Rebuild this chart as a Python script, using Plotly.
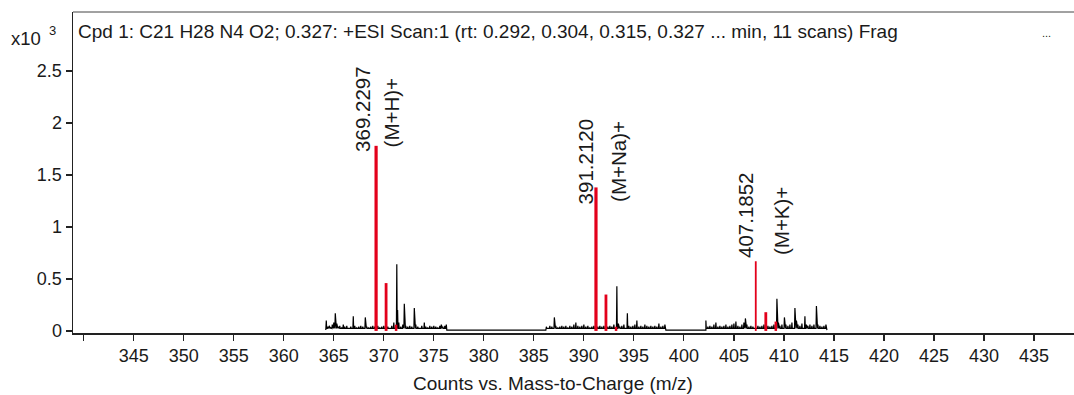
import plotly.graph_objects as go

# ---------------- data ----------------
x_tick_vals = [340, 345, 350, 355, 360, 365, 370, 375, 380, 385, 390, 395, 400,
               405, 410, 415, 420, 425, 430, 435]
x_tick_text = ["", "345", "350", "355", "360", "365", "370", "375", "380", "385",
               "390", "395", "400", "405", "410", "415", "420", "425", "430", "435"]
y_tick_vals = [0, 0.5, 1, 1.5, 2, 2.5]
y_tick_text = ["0", "0.5", "1", "1.5", "2", "2.5"]

# cluster limits (m/z) and baseline level (x10^3 counts)
cluster_start = [364.2, 386.2, 402.2]
cluster_end = [376.3, 398.2, 414.3]
cluster_floor = [0.024, 0.024, 0.024]
gap_level = 0.008

# black profile peaks, cluster 1
c1_mz = [364.25, 364.4, 364.55, 364.7, 364.85, 365.0, 365.15, 365.3, 365.45, 365.6,
         365.8, 365.95, 366.1, 366.3, 366.5, 366.7, 366.95, 367.1, 367.3, 367.5,
         367.7, 367.9, 368.15, 368.3, 368.5, 368.7, 368.9, 369.1, 369.4, 369.6,
         369.8, 370.0, 370.4, 370.6, 370.8, 371.0, 371.3, 371.38, 371.5, 371.7,
         371.9, 372.05, 372.2, 372.4, 372.6, 372.8, 373.05, 373.2, 373.4, 373.6,
         373.8, 374.05, 374.2, 374.4, 374.6, 374.8, 375.0, 375.2, 375.4, 375.6,
         375.75, 375.9, 376.1, 376.25]
c1_int = [0.10, 0.04, 0.05, 0.03, 0.06, 0.08, 0.17, 0.07, 0.04, 0.05,
          0.03, 0.06, 0.04, 0.05, 0.03, 0.04, 0.14, 0.05, 0.03, 0.04,
          0.05, 0.04, 0.13, 0.04, 0.03, 0.04, 0.05, 0.04, 0.05, 0.03,
          0.04, 0.05, 0.04, 0.03, 0.05, 0.08, 0.64, 0.20, 0.08, 0.04,
          0.06, 0.26, 0.05, 0.04, 0.05, 0.04, 0.22, 0.06, 0.04, 0.03,
          0.05, 0.08, 0.04, 0.03, 0.05, 0.04, 0.05, 0.04, 0.03, 0.05,
          0.06, 0.04, 0.05, 0.06]

# cluster 2
c2_mz = [386.25, 386.45, 386.6, 386.8, 387.05, 387.2, 387.4, 387.6, 387.8, 388.0,
         388.2, 388.4, 388.6, 388.8, 389.0, 389.2, 389.4, 389.6, 389.8, 390.0,
         390.2, 390.4, 390.6, 390.8, 391.0, 391.4, 391.6, 391.8, 392.0, 392.4,
         392.6, 392.8, 393.0, 393.3, 393.45, 393.6, 393.8, 394.0, 394.35, 394.5,
         394.7, 394.9, 395.1, 395.3, 395.5, 395.7, 395.9, 396.1, 396.3, 396.5,
         396.7, 396.9, 397.1, 397.3, 397.5, 397.7, 397.9, 398.1]
c2_int = [0.04, 0.03, 0.05, 0.04, 0.13, 0.05, 0.03, 0.04, 0.05, 0.04,
          0.05, 0.03, 0.05, 0.04, 0.06, 0.08, 0.05, 0.04, 0.05, 0.06,
          0.04, 0.05, 0.03, 0.04, 0.05, 0.04, 0.05, 0.04, 0.05, 0.04,
          0.05, 0.04, 0.06, 0.43, 0.07, 0.04, 0.05, 0.06, 0.17, 0.05,
          0.04, 0.05, 0.06, 0.10, 0.04, 0.05, 0.04, 0.06, 0.05, 0.04,
          0.05, 0.04, 0.05, 0.04, 0.07, 0.04, 0.05, 0.06]

# cluster 3
c3_mz = [402.2, 402.4, 402.6, 402.8, 403.0, 403.2, 403.4, 403.6, 403.8, 404.0,
         404.2, 404.4, 404.6, 404.8, 405.0, 405.2, 405.4, 405.6, 405.8, 406.0,
         406.15, 406.3, 406.5, 406.7, 406.9, 407.4, 407.6, 407.8, 408.0, 408.4,
         408.6, 408.8, 409.0, 409.3, 409.45, 409.6, 409.8, 410.05, 410.2, 410.4,
         410.6, 410.8, 411.1, 411.25, 411.4, 411.6, 411.8, 412.1, 412.25, 412.4,
         412.6, 412.8, 413.0, 413.25, 413.4, 413.6, 413.8, 414.0, 414.2]
c3_int = [0.10, 0.04, 0.05, 0.04, 0.06, 0.08, 0.04, 0.05, 0.04, 0.05,
          0.06, 0.04, 0.05, 0.06, 0.07, 0.09, 0.05, 0.04, 0.06, 0.08,
          0.12, 0.06, 0.04, 0.05, 0.04, 0.05, 0.04, 0.05, 0.06, 0.05,
          0.04, 0.05, 0.06, 0.31, 0.08, 0.05, 0.06, 0.13, 0.06, 0.05,
          0.06, 0.08, 0.22, 0.10, 0.06, 0.05, 0.07, 0.14, 0.06, 0.05,
          0.06, 0.05, 0.06, 0.24, 0.06, 0.05, 0.04, 0.05, 0.06]

# red (compound) peaks
red_mz = [369.2297, 370.23, 371.23, 391.2120, 392.21, 393.22, 407.1852, 408.19, 409.19]
red_int = [1.78, 0.46, 0.06, 1.38, 0.35, 0.04, 0.67, 0.18, 0.09]

# labelled peaks
label_mz = [369.2297, 391.2120, 407.1852]
label_int = [1.78, 1.38, 0.67]
label_value = ["369.2297", "391.2120", "407.1852"]
label_ion = ["(M+H)+", "(M+Na)+", "(M+K)+"]

title_text = ("Cpd 1: C21 H28 N4 O2; 0.327: +ESI Scan:1 (rt: 0.292, 0.304, 0.315, "
              "0.327 ... min, 11 scans) Frag")
x_title = "Counts vs. Mass-to-Charge (m/z)"

# ---------------- styles / layout geometry ----------------
FONT = "Liberation Sans, Arial, sans-serif"
TXT = "#1a1a1a"
RED = "#e3001b"
red_width = [3.2, 2.8, 2.5, 3.2, 2.8, 2.5, 1.8, 2.8, 2.5]
label_dx_value = [-13, -11, -11]
label_dy_value = [-8, -19, 1]
label_dx_ion = [15, 23, 25]
label_dy_ion = [-4, -16, 4]

W, H = 1074, 395
L, R, T, B = 73, 1074, 12, 333


def px(xp):
    return (xp - L) / (R - L)


def py(yp):
    return (B - yp) / (B - T)


# ---------------- build black profile ----------------
half = 0.04
prof_x, prof_y = [], []
clusters = [(c1_mz, c1_int), (c2_mz, c2_int), (c3_mz, c3_int)]
for ci, (mzs, ints) in enumerate(clusters):
    fl = cluster_floor[ci]
    prof_x += [cluster_start[ci], cluster_start[ci]]
    prof_y += [gap_level, fl]
    for m, v in zip(mzs, ints):
        prof_x += [m - half, m, m + half]
        prof_y += [fl, v, fl]
    prof_x += [cluster_end[ci], cluster_end[ci]]
    prof_y += [fl, gap_level]

fig = go.Figure()
fig.add_trace(go.Scatter(x=prof_x, y=prof_y, mode="lines",
                         line=dict(color="black", width=1.2), hoverinfo="skip"))

for m, v, w in zip(red_mz, red_int, red_width):
    fig.add_trace(go.Scatter(x=[m, m], y=[0, v], mode="lines",
                             line=dict(color=RED, width=w), hoverinfo="skip"))

annotations = []
for m, v, t1, t2, dx1, dy1, dx2, dy2 in zip(label_mz, label_int, label_value, label_ion,
                                            label_dx_value, label_dy_value,
                                            label_dx_ion, label_dy_ion):
    annotations.append(dict(x=m, y=v, xref="x", yref="y", text=t1, textangle=-90,
                            showarrow=False, xanchor="center", yanchor="bottom",
                            xshift=dx1, yshift=dy1,
                            font=dict(family=FONT, size=20.5, color=TXT)))
    annotations.append(dict(x=m, y=v, xref="x", yref="y", text=t2, textangle=-90,
                            showarrow=False, xanchor="center", yanchor="bottom",
                            xshift=dx2, yshift=dy2,
                            font=dict(family=FONT, size=20.5, color=TXT)))

annotations += [
    dict(x=px(76), y=py(31), xref="paper", yref="paper", text=title_text,
         showarrow=False, xanchor="left", yanchor="middle",
         font=dict(family=FONT, size=19, color=TXT)),
    dict(x=px(1046), y=py(33), xref="paper", yref="paper", text="...",
         showarrow=False, xanchor="center", yanchor="middle",
         font=dict(family=FONT, size=11, color=TXT)),
    dict(x=px(26), y=py(38), xref="paper", yref="paper", text="x10",
         showarrow=False, xanchor="center", yanchor="middle",
         font=dict(family=FONT, size=18.5, color=TXT)),
    dict(x=px(52), y=py(30), xref="paper", yref="paper", text="3",
         showarrow=False, xanchor="center", yanchor="middle",
         font=dict(family=FONT, size=13, color=TXT)),
    dict(x=px(553), y=py(384), xref="paper", yref="paper", text=x_title,
         showarrow=False, xanchor="center", yanchor="middle",
         font=dict(family=FONT, size=19, color=TXT)),
]

fig.update_layout(
    width=W, height=H,
    margin=dict(l=L, r=W - R, t=T, b=H - B, pad=0),
    plot_bgcolor="white", paper_bgcolor="white",
    showlegend=False,
    annotations=annotations,
    shapes=[dict(type="line", xref="paper", yref="paper", x0=0, x1=1, y0=1, y1=1,
                 line=dict(color="#444444", width=1))],
    xaxis=dict(range=[338.93, 439.0], showgrid=False, zeroline=False,
               showline=True, linecolor="#222222", linewidth=1.5,
               ticks="outside", ticklen=6, tickwidth=1.2, tickcolor="#222222",
               tickvals=x_tick_vals, ticktext=x_tick_text,
               tickfont=dict(family=FONT, size=18, color=TXT)),
    yaxis=dict(range=[-0.02, 3.067], showgrid=False, zeroline=False,
               showline=True, linecolor="#222222", linewidth=1.5,
               ticks="outside", ticklen=6, tickwidth=1.2, tickcolor="#222222",
               tickvals=y_tick_vals, ticktext=y_tick_text,
               tickfont=dict(family=FONT, size=18, color=TXT)),
)

fig.write_html("out.html",
               config={"displayModeBar": False, "staticPlot": True},
               post_script="document.body.style.margin='0';"
                           "document.body.style.overflow='hidden';")
